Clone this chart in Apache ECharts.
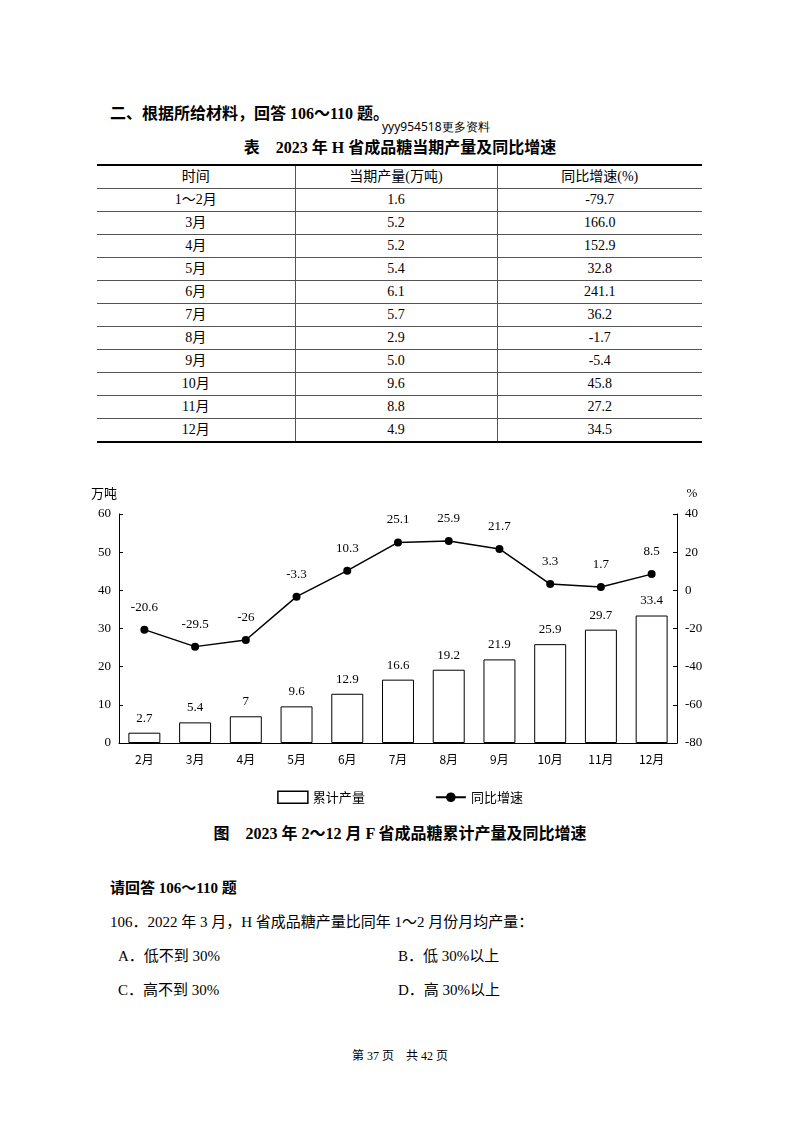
<!DOCTYPE html>
<html><head><meta charset="utf-8">
<script src="https://cdn.jsdelivr.net/npm/echarts@6/dist/echarts.min.js"></script>
<style>
body{margin:0;width:800px;height:1124px;background:#fff;position:relative;font-family:"Liberation Serif","Noto Sans CJK SC",serif;color:#000}
.t{position:absolute;white-space:nowrap}
table{position:absolute;left:97px;top:164px;width:605px;border-collapse:collapse;font-size:14px;table-layout:fixed}
td{height:22px;padding:0;text-align:center;border-bottom:1px solid #555;line-height:22px}
td+td{border-left:1px solid #555}
tr:first-child td{border-top:2px solid #000}
tr:last-child td{border-bottom:2px solid #000}
</style></head><body>
<div class="t" style="left:110px;top:100px;font-size:16px;font-weight:bold">二、根据所给材料，回答 106～110 题。</div>
<div class="t" style="left:382px;top:118px;font-size:12px;font-family:'Noto Sans'">yyy954518更多资料</div>
<div class="t" style="left:0;width:800px;text-align:center;top:134px;font-size:16px;font-weight:bold">表　2023 年 H 省成品糖当期产量及同比增速</div>
<table id="tb"><colgroup><col style="width:198px"><col style="width:202px"><col style="width:205px"></colgroup></table>
<div id="chart" style="position:absolute;left:0;top:470px;width:800px;height:345px"></div>
<div class="t" style="left:0;width:800px;text-align:center;top:820px;font-size:16px;font-weight:bold">图　2023 年 2～12 月 F 省成品糖累计产量及同比增速</div>
<div class="t" style="left:110px;top:876px;font-size:15px;font-weight:bold">请回答 106～110 题</div>
<div class="t" style="left:110px;top:910px;font-size:15px">106．2022 年 3 月，H 省成品糖产量比同年 1～2 月份月均产量：</div>
<div class="t" style="left:118px;top:944px;font-size:15px">A．低不到 30%</div>
<div class="t" style="left:398px;top:944px;font-size:15px">B．低 30%以上</div>
<div class="t" style="left:118px;top:978px;font-size:15px">C．高不到 30%</div>
<div class="t" style="left:398px;top:978px;font-size:15px">D．高 30%以上</div>
<div class="t" style="left:0;width:800px;text-align:center;top:1046px;font-size:12px">第 37 页　共 42 页</div>
<script>
// table data
const tableHead = ['时间', '当期产量(万吨)', '同比增速(%)'];
const tableMonths = ['1～2月','3月','4月','5月','6月','7月','8月','9月','10月','11月','12月'];
const tableOutput = ['1.6','5.2','5.2','5.4','6.1','5.7','2.9','5.0','9.6','8.8','4.9'];
const tableGrowth = ['-79.7','166.0','152.9','32.8','241.1','36.2','-1.7','-5.4','45.8','27.2','34.5'];

// chart data
const months = ['2月','3月','4月','5月','6月','7月','8月','9月','10月','11月','12月'];
const cumOutput = [2.7, 5.4, 7, 9.6, 12.9, 16.6, 19.2, 21.9, 25.9, 29.7, 33.4];
const yoyGrowth = [-20.6, -29.5, -26, -3.3, 10.3, 25.1, 25.9, 21.7, 3.3, 1.7, 8.5];

let rows = '<tr>' + tableHead.map(h => '<td>' + h + '</td>').join('') + '</tr>';
tableMonths.forEach((m, i) => {
  rows += '<tr><td>' + m + '</td><td>' + tableOutput[i] + '</td><td>' + tableGrowth[i] + '</td></tr>';
});
document.getElementById('tb').insertAdjacentHTML('beforeend', rows);

const font = 'Liberation Serif';
const axisText = {color: '#000', fontSize: 13, fontFamily: font};
const myChart = echarts.init(document.getElementById('chart'));
myChart.setOption({
  animation: false,
  textStyle: {fontFamily: font},
  grid: {left: 119, right: 123, top: 44, bottom: 72},
  legend: {
    bottom: 6, itemGap: 70, itemWidth: 30, itemHeight: 12,
    textStyle: {color: '#000', fontSize: 13, fontFamily: 'Noto Sans CJK SC'},
    data: [
      {name: '累计产量', icon: 'rect', itemStyle: {color: '#fff', borderColor: '#000', borderWidth: 1.5}},
      {name: '同比增速'}
    ]
  },
  xAxis: {
    type: 'category', data: months,
    axisLine: {lineStyle: {color: '#000'}},
    axisTick: {show: false},
    axisLabel: Object.assign({margin: 10}, axisText, {fontFamily: 'Noto Sans CJK SC', fontSize: 12})
  },
  yAxis: [
    {type: 'value', min: 0, max: 60, interval: 10, name: '万吨',
     nameGap: 14, nameLocation: 'end',
     nameTextStyle: {color: '#000', fontSize: 13, fontFamily: 'Noto Sans CJK SC', padding: [0, 30, 0, 0]},
     axisLine: {show: true, lineStyle: {color: '#000'}},
     axisTick: {show: true, inside: true, length: 4},
     splitLine: {show: false}, axisLabel: axisText},
    {type: 'value', min: -80, max: 40, interval: 20, name: '%',
     nameGap: 14,
     nameTextStyle: {color: '#000', fontSize: 13, padding: [0, 0, 0, 30]},
     axisLine: {show: true, lineStyle: {color: '#000'}},
     axisTick: {show: true, inside: true, length: 4},
     splitLine: {show: false}, axisLabel: axisText}
  ],
  series: [
    {name: '累计产量', type: 'bar', data: cumOutput, barWidth: '63%',
     itemStyle: {color: '#fff', borderColor: '#000', borderWidth: 1},
     label: {show: true, position: 'top', distance: 8, color: '#000', fontSize: 13, fontFamily: font}},
    {name: '同比增速', type: 'line', yAxisIndex: 1, data: yoyGrowth,
     symbol: 'circle', symbolSize: 8,
     lineStyle: {color: '#000', width: 1.5}, itemStyle: {color: '#000'},
     label: {show: true, position: 'top', distance: 12, color: '#000', fontSize: 13, fontFamily: font}}
  ]
});
</script>
</body></html>
